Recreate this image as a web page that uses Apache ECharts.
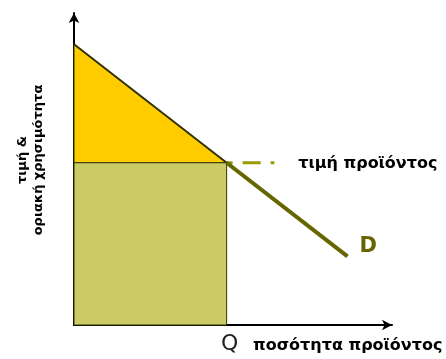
<!DOCTYPE html>
<html>
<head>
    <meta charset="UTF-8">
    <title>οφελος καταναλωτή</title>
    <script src="https://cdn.jsdelivr.net/npm/echarts@6/dist/echarts.min.js"></script>
</head>
<body style="margin:0">
    <div id="main" style="width:446px;height:359px;"></div>
    <script>
        // καμπύλη ζήτησης D (ποσότητα, τιμή)
        var demandUpper = [[0, 90], [48, 52]];
        var demandLower = [[48, 52], [86, 22]];
        var priceQ = 48;
        var price = 52;
        var priceLineEnd = 63;

        var myChart = echarts.init(document.getElementById('main'));
        var font = 'DejaVu Sans, Tahoma, sans-serif';

        var option = {
            animation: false,
            backgroundColor: '#fff',
            grid: { left: 74, right: 54, top: 13, bottom: 34 },
            xAxis: {
                type: 'value', min: 0, max: 100,
                axisLine: { lineStyle: { color: '#000', width: 2 }, symbol: ['none', 'arrow'], symbolSize: [8, 10] },
                axisTick: { show: false }, axisLabel: { show: false }, splitLine: { show: false }
            },
            yAxis: {
                type: 'value', min: 0, max: 100,
                axisLine: { lineStyle: { color: '#000', width: 2 }, symbol: ['none', 'arrow'], symbolSize: [8, 10] },
                axisTick: { show: false }, axisLabel: { show: false }, splitLine: { show: false }
            },
            series: [
                // Οφελος (τρίγωνο)
                {
                    type: 'custom',
                    renderItem: function (params, api) {
                        var a = api.coord(demandUpper[0]);
                        var b = api.coord(demandUpper[1]);
                        var c = api.coord([0, price]);
                        return {
                            type: 'polygon',
                            shape: { points: [a, b, c] },
                            style: { fill: '#FFCC00', stroke: '#333300', lineWidth: 1 }
                        };
                    },
                    data: [0],
                    z: 1
                },
                // δαπάνη (ορθογώνιο)
                {
                    type: 'custom',
                    renderItem: function (params, api) {
                        var p0 = api.coord([0, 0]);
                        var p1 = api.coord([priceQ, price]);
                        return {
                            type: 'rect',
                            shape: { x: p0[0], y: p1[1], width: p1[0] - p0[0], height: p0[1] - p1[1] },
                            style: { fill: '#CCCC66', stroke: '#333300', lineWidth: 1 }
                        };
                    },
                    data: [0],
                    z: 1
                },
                {
                    type: 'line',
                    data: demandUpper,
                    symbol: 'none',
                    lineStyle: { color: '#333300', width: 2 },
                    z: 3
                },
                {
                    type: 'line',
                    data: demandLower,
                    symbol: 'none',
                    lineStyle: { color: '#666600', width: 4 },
                    endLabel: {
                        show: true, formatter: 'D', color: '#666600',
                        fontFamily: font, fontWeight: 'bold', fontSize: 21, offset: [4, -10]
                    },
                    z: 3
                },
                {
                    type: 'line',
                    data: [[priceQ, price], [priceLineEnd, price]],
                    symbol: 'none',
                    lineStyle: { color: '#999900', width: 3, type: [6, 10, 18, 10] },
                    endLabel: {
                        show: true, formatter: 'τιμή προϊόντος', color: '#000',
                        fontFamily: font, fontWeight: 'bold', fontSize: 16, offset: [16, 1]
                    },
                    z: 2
                }
            ],
            graphic: [
                {
                    type: 'text', left: 99, top: 123,
                    style: { text: 'Οφελος', font: 'bold 18px ' + font, fill: '#000' }
                },
                {
                    type: 'text', left: 221, top: 333,
                    style: { text: 'Q', font: '22px ' + font, fill: '#222' }
                },
                {
                    type: 'text', left: 253, top: 338,
                    style: { text: 'ποσότητα προϊόντος', font: 'bold 16px ' + font, fill: '#000' }
                },
                {
                    type: 'text', x: 31, y: 160, rotation: Math.PI / 2,
                    style: {
                        text: 'τιμή &\nοριακή χρησιμότητα', font: 'bold 13px ' + font,
                        fill: '#000', align: 'center', verticalAlign: 'middle', lineHeight: 16
                    }
                }
            ]
        };

        myChart.setOption(option);
    </script>
</body>
</html>
